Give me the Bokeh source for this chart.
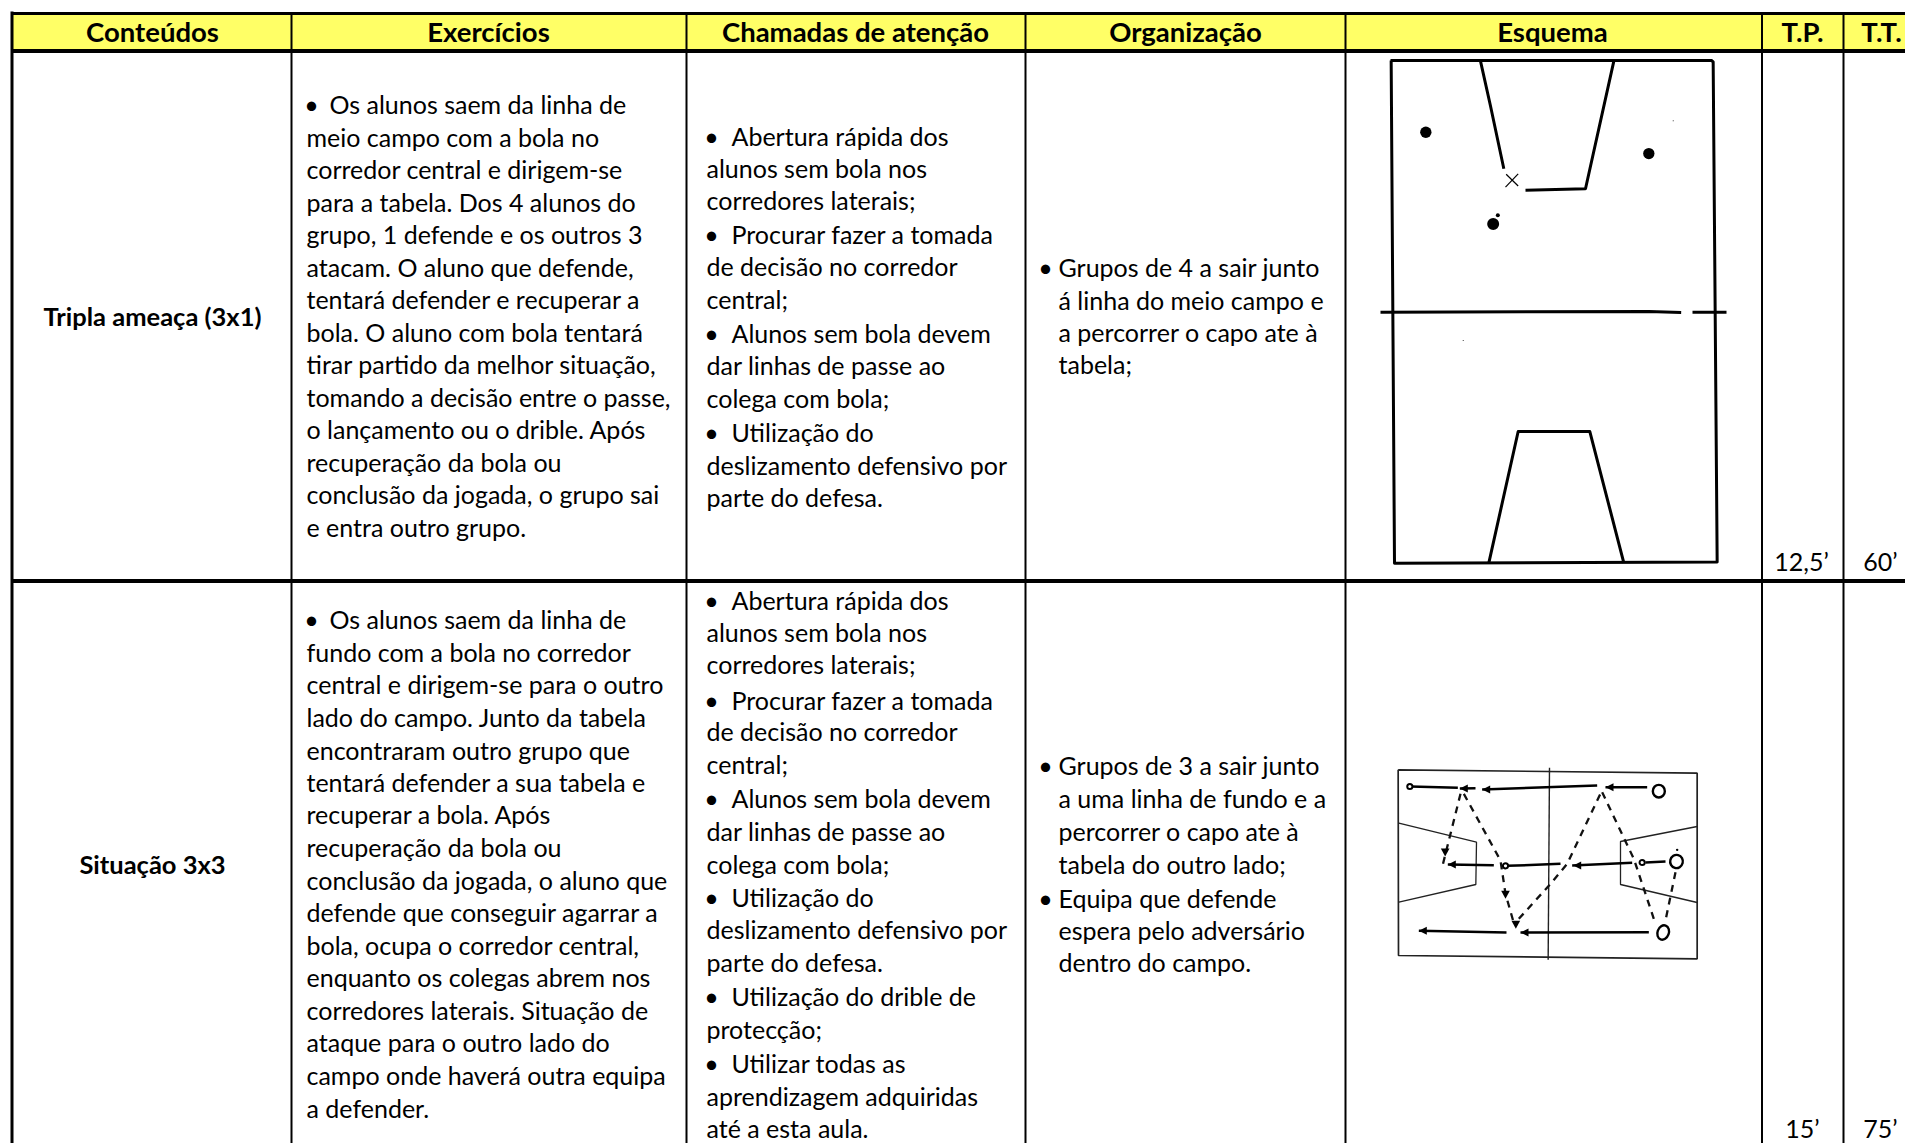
import numpy as np
from bokeh.plotting import figure
from bokeh.core.properties import value
from bokeh.embed import file_html
from bokeh.resources import INLINE

# ---------- table contents ----------
headers = ["Conteúdos", "Exercícios", "Chamadas de atenção", "Organização", "Esquema", "T.P.", "T.T."]
contents = ["Tripla ameaça (3x1)", "Situação 3x3"]
tp_values = ["12,5’", "15’"]
tt_values = ["60’", "75’"]

ex_r1 = ["Os alunos saem da linha de", "meio campo com a bola no", "corredor central e dirigem-se",
         "para a tabela. Dos 4 alunos do", "grupo, 1 defende e os outros 3", "atacam. O aluno que defende,",
         "tentará defender e recuperar a", "bola. O aluno com bola tentará", "tirar partido da melhor situação,",
         "tomando a decisão entre o passe,", "o lançamento ou o drible. Após", "recuperação da bola ou",
         "conclusão da jogada, o grupo sai", "e entra outro grupo."]
ex_r2 = ["Os alunos saem da linha de", "fundo com a bola no corredor", "central e dirigem-se para o outro",
         "lado do campo. Junto da tabela", "encontraram outro grupo que", "tentará defender a sua tabela e",
         "recuperar a bola. Após", "recuperação da bola ou", "conclusão da jogada, o aluno que",
         "defende que conseguir agarrar a", "bola, ocupa o corredor central,", "enquanto os colegas abrem nos",
         "corredores laterais. Situação de", "ataque para o outro lado do", "campo onde haverá outra equipa",
         "a defender."]
at_r1 = ["Abertura rápida dos", "alunos sem bola nos", "corredores laterais;", "Procurar fazer a tomada",
         "de decisão no corredor", "central;", "Alunos sem bola devem", "dar linhas de passe ao",
         "colega com bola;", "Utilização do", "deslizamento defensivo por", "parte do defesa."]
at_r2 = at_r1 + ["Utilização do drible de", "protecção;", "Utilizar todas as", "aprendizagem adquiridas", "até a esta aula."]
at_b1 = [0, 3, 6, 9]
at_b2 = [0, 3, 6, 9, 12, 14]
org_r1 = ["Grupos de 4 a sair junto", "á linha do meio campo e", "a percorrer o capo ate à", "tabela;"]
org_r2 = ["Grupos de 3 a sair junto", "a uma linha de fundo e a", "percorrer o capo ate à", "tabela do outro lado;",
          "Equipa que defende", "espera pelo adversário", "dentro do campo."]
org_b2 = [0, 4]

# ---------- scheme 1 drawing, in the scheme's own units ----------
s1_lines = [
    ([150, 1113, 1118, 1130, 162, 152], [58, 58, 62, 1512, 1516, 58]),
    ([420, 450, 490], [60, 190, 372]),
    ([820, 735, 555], [60, 430, 434]),
    ([445, 533, 748, 850], [1515, 1134, 1134, 1515]),
    ([120, 925, 1022], [788, 786, 789]),
    ([1056, 1158], [788, 788]),
]
s1_cross = [([495, 533], [425, 387]), ([497, 533], [388, 422])]
s1_dots_x = [256, 925, 458, 472, 998, 368]
s1_dots_y = [266, 328, 532, 507, 233, 870]
s1_dots_r = [17, 17, 18, 6, 1.5, 1.5]

# ---------- scheme 2 drawing, in the scheme's own units ----------
s2_frame = ([83, 980, 980, 84, 83], [58, 68, 625, 615, 58])
s2_mid = ([537, 533], [52, 628])
s2_keys = [([85, 318, 316, 85], [218, 275, 402, 455]), ([980, 750, 750, 980], [228, 273, 402, 456])]
s2_solid = [
    ([830, 705], [110, 110]), ([680, 335], [105, 117]), ([315, 268], [113, 114]), ([262, 120], [112, 108]),
    ([885, 825], [333, 336]), ([785, 605], [337, 345]), ([570, 410], [340, 346]), ([370, 232], [344, 342]),
    ([835, 450], [545, 546]), ([408, 145], [546, 541]),
]
s2_heads = [(705, 110, 0), (335, 117, 3), (268, 114, 0), (608, 345, 3), (232, 342, 0), (450, 546, 0), (145, 541, 0)]
s2_dashed = [
    ([270, 215], [130, 350]),
    ([280, 390, 405, 432], [130, 330, 430, 525]),
    ([445, 540, 590, 692], [505, 400, 340, 125]),
    ([695, 790, 855], [125, 325, 520]),
    ([915, 885], [365, 510]),
]
s2_tri_x = [224, 436, 405]
s2_tri_y = [305, 522, 432]
s2_small_x = [118, 405, 815]
s2_small_y = [108, 346, 336]
s2_o_x = [865, 918, 878]
s2_o_y = [122, 333, 546]
s2_o_w = [36, 38, 34]
s2_o_h = [38, 40, 44]
s2_o_a = [0, -0.25, -0.35]
s2_speck_x = [920]
s2_speck_y = [298]

# ---------- layout on the page ----------
col_x = [291, 686, 1025, 1345, 1761.5, 1843]
X0, XE, Y0, YE = 0, 1905, 0, 1143
LEFT, TOP, HEAD, ROW = 11.5, 13, 50.5, 580.5
FS = "25px"
FONT = value("Lato")
DY = 11  # offset between asked and drawn alphabetic baseline

p = figure(width=XE - X0, height=YE - Y0, x_range=(X0, XE), y_range=(YE, Y0), toolbar_location=None,
           output_backend="svg", min_border=0, background_fill_color="white", border_fill_color="white",
           outline_line_color=None)
p.xaxis.visible = False
p.yaxis.visible = False
p.grid.visible = False

p.quad(left=[LEFT], right=[XE], top=[TOP], bottom=[HEAD], fill_color="#FFFF66", line_color=None)
p.segment(x0=col_x, x1=col_x, y0=[TOP] * 6, y1=[YE] * 6, line_color="black", line_width=2)
p.segment(x0=[LEFT], x1=[LEFT], y0=[TOP - 2], y1=[YE], line_color="black", line_width=3)
p.segment(x0=[LEFT], x1=[XE], y0=[TOP], y1=[TOP], line_color="black", line_width=3)
p.segment(x0=[LEFT, LEFT], x1=[XE, XE], y0=[HEAD, ROW], y1=[HEAD, ROW], line_color="black", line_width=4)


def txt(x, y, t, align="left", style="normal", fs=FS):
    p.text(x=x, y=[v - DY for v in y], text=t, text_font=FONT, text_font_size=fs, text_align=align,
           text_baseline="alphabetic", text_font_style=style, text_color="black")


def block(x, ys, lines, bullets, bx, tx):
    xs = [tx if i in bullets else x for i in range(len(lines))]
    txt(xs, ys, lines)
    txt([bx] * len(bullets), [ys[i] for i in bullets], ["•"] * len(bullets), align="center")


hx = [152, 488, 855, 1185, 1552, 1802, 1881]
txt(hx, [42] * 7, headers, align="center", style="bold", fs="27.5px")
txt([152, 152], [326, 874], contents, align="center", style="bold", fs="25.5px")
txt([1801, 1802], [571, 1138], tp_values, align="center")
txt([1880, 1880], [571, 1138], tt_values, align="center")

k = 1.215
c_ex1 = [87, 113.8, 140.6, 167.2, 194, 220.8, 247.6, 274.4, 301, 328, 354.6, 381.4, 408.2, 435]
c_ex2 = [511, 538, 564.6, 591.4, 618.2, 644.8, 671.6, 698.4, 725.2, 752, 778.8, 805.6, 832.4, 859.2, 886, 913]
c_at1 = [113, 139.5, 166, 194, 220.5, 247.5, 275.5, 302, 329, 357, 384, 410]
c_at2 = [495, 521.5, 548, 577, 603, 630, 658, 685, 712, 739.5, 766, 793, 821, 848, 876, 903, 929.5]
c_or1 = [221, 248, 274.5, 301]
c_or2 = [631, 658, 685, 712, 740, 766.5, 793]
base = lambda c: [v * k + 9 for v in c]
block(306, base(c_ex1), ex_r1, [0], 311, 329)
block(306, base(c_ex2), ex_r2, [0], 311, 329)
block(706, base(c_at1), at_r1, at_b1, 711, 731)
block(706, base(c_at2), at_r2, at_b2, 711, 731)
block(1058, base(c_or1), org_r1, [0], 1045, 1058)
block(1058, base(c_or2), org_r2, org_b2, 1045, 1058)


# scheme 1
def s1x(v): return [1340 + a / 3 for a in v]
def s1y(v): return [40 + a / 2.9 for a in v]


p.multi_line([s1x(a) for a, _ in s1_lines], [s1y(b) for _, b in s1_lines], line_color="black", line_width=3,
             line_join="round")
p.multi_line([s1x(a) for a, _ in s1_cross], [s1y(b) for _, b in s1_cross], line_color="black", line_width=1.2)
p.circle(x=s1x(s1_dots_x), y=s1y(s1_dots_y), radius=[r / 3 for r in s1_dots_r], fill_color="black", line_color=None)


# scheme 2
def s2x(v): return [1370 + a / 3 for a in v]
def s2y(v): return [750 + a / 3 for a in v]


p.line(s2x(s2_frame[0]), s2y(s2_frame[1]), line_color="#222222", line_width=1.7)
p.line(s2x(s2_mid[0]), s2y(s2_mid[1]), line_color="#222222", line_width=1.4)
p.multi_line([s2x(a) for a, _ in s2_keys], [s2y(b) for _, b in s2_keys], line_color="#222222", line_width=1.3)
p.multi_line([s2x(a) for a, _ in s2_solid], [s2y(b) for _, b in s2_solid], line_color="black", line_width=2.5)
p.multi_line([s2x(a) for a, _ in s2_dashed], [s2y(b) for _, b in s2_dashed], line_color="#111111", line_width=2.3,
             line_dash="7 6")
hx_, hy_ = [], []
for tip_x, tip_y, _ in s2_heads:
    hx_.append(s2x([tip_x, tip_x + 24, tip_x + 24]))
    hy_.append(s2y([tip_y, tip_y - 12, tip_y + 12]))
p.patches(hx_, hy_, fill_color="black", line_color=None)
tx_ = [s2x([a - 13, a + 13, a]) for a in s2_tri_x]
ty_ = [s2y([b - 11, b - 11, b + 13]) for b in s2_tri_y]
p.patches(tx_, ty_, fill_color="black", line_color=None)
p.circle(x=s2x(s2_small_x), y=s2y(s2_small_y), radius=2.6, fill_color="white", line_color="black", line_width=2)
p.circle(x=s2x(s2_speck_x), y=s2y(s2_speck_y), radius=1.2, fill_color="black", line_color=None)
p.ellipse(x=s2x(s2_o_x), y=s2y(s2_o_y), width=[w / 3 for w in s2_o_w], height=[h / 3 for h in s2_o_h],
          angle=s2_o_a, fill_color=None, line_color="black", line_width=2.4)

open("out.html", "w").write(file_html(p, INLINE))
